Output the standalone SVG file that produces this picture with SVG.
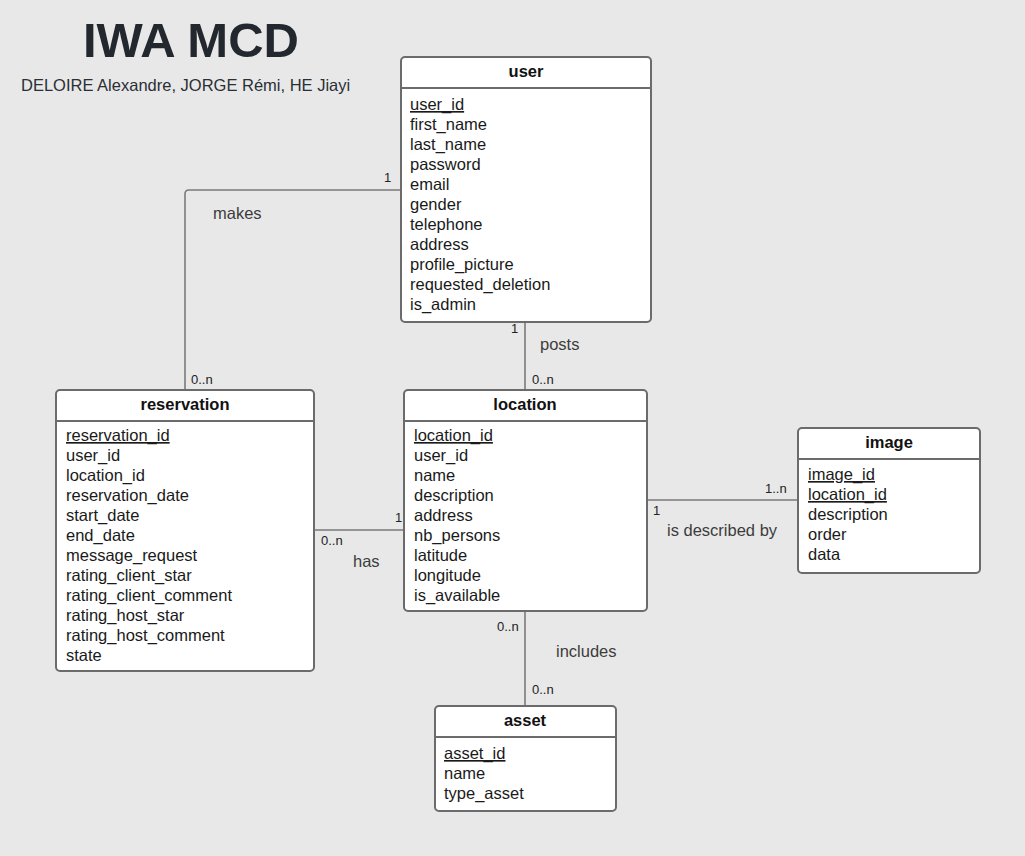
<svg xmlns="http://www.w3.org/2000/svg" width="1025" height="856" viewBox="0 0 1025 856">
<style>
text{font-family:"Liberation Sans",Arial,sans-serif}
.box{fill:#ffffff;stroke:#6b6b6b;stroke-width:2}
.div{stroke:#6b6b6b;stroke-width:2}
.hdr{font-size:16.5px;font-weight:bold;fill:#111;text-anchor:middle}
.att{font-size:16.5px;fill:#1a1a1a}
.pk{text-decoration:underline}
.con{fill:none;stroke:#7a7a7a;stroke-width:1.6}
.lbl{font-size:16.5px;fill:#3c3c3c}
.card{font-size:13px;fill:#222}
</style>
<rect width="1025" height="856" fill="#e8e8e8"/>
<text x="83" y="57" font-size="49" font-weight="bold" fill="#23282f">IWA MCD</text>
<text x="21" y="91" font-size="16.5" fill="#2a2f36">DELOIRE Alexandre, JORGE Rémi, HE Jiayi</text>
<g id="connectors">
<path class="con" d="M401 190 H189 Q185 190 185 194 V390"/>
<path class="con" d="M525 322 V390"/>
<path class="con" d="M314 530 H404"/>
<path class="con" d="M647 500 H798"/>
<path class="con" d="M525 611 V706"/>
<text class="card" x="384" y="182">1</text>
<text class="lbl" x="213" y="219">makes</text>
<text class="card" x="191" y="384">0..n</text>
<text class="card" x="511" y="333">1</text>
<text class="lbl" x="540" y="350">posts</text>
<text class="card" x="532" y="384">0..n</text>
<text class="card" x="395" y="522">1</text>
<text class="card" x="321" y="545">0..n</text>
<text class="lbl" x="353" y="567">has</text>
<text class="card" x="765" y="493">1..n</text>
<text class="card" x="653" y="515">1</text>
<text class="lbl" x="667" y="536">is described by</text>
<text class="card" x="497" y="631">0..n</text>
<text class="lbl" x="556" y="657">includes</text>
<text class="card" x="532" y="694">0..n</text>
</g>
<g id="user">
<rect class="box" x="401" y="57" width="250" height="265" rx="4"/>
<line class="div" x1="401" y1="88" x2="651" y2="88"/>
<text class="hdr" x="526" y="77">user</text>
<text class="att pk" x="410" y="110">user_id</text>
<text class="att" x="410" y="130">first_name</text>
<text class="att" x="410" y="150">last_name</text>
<text class="att" x="410" y="170">password</text>
<text class="att" x="410" y="190">email</text>
<text class="att" x="410" y="210">gender</text>
<text class="att" x="410" y="230">telephone</text>
<text class="att" x="410" y="250">address</text>
<text class="att" x="410" y="270">profile_picture</text>
<text class="att" x="410" y="290">requested_deletion</text>
<text class="att" x="410" y="310">is_admin</text>
</g>
<g id="reservation">
<rect class="box" x="56" y="390" width="258" height="281" rx="4"/>
<line class="div" x1="56" y1="421" x2="314" y2="421"/>
<text class="hdr" x="185" y="410">reservation</text>
<text class="att pk" x="66" y="441">reservation_id</text>
<text class="att" x="66" y="461">user_id</text>
<text class="att" x="66" y="481">location_id</text>
<text class="att" x="66" y="501">reservation_date</text>
<text class="att" x="66" y="521">start_date</text>
<text class="att" x="66" y="541">end_date</text>
<text class="att" x="66" y="561">message_request</text>
<text class="att" x="66" y="581">rating_client_star</text>
<text class="att" x="66" y="601">rating_client_comment</text>
<text class="att" x="66" y="621">rating_host_star</text>
<text class="att" x="66" y="641">rating_host_comment</text>
<text class="att" x="66" y="661">state</text>
</g>
<g id="location">
<rect class="box" x="404" y="390" width="243" height="221" rx="4"/>
<line class="div" x1="404" y1="421" x2="647" y2="421"/>
<text class="hdr" x="525" y="410">location</text>
<text class="att pk" x="414" y="441">location_id</text>
<text class="att" x="414" y="461">user_id</text>
<text class="att" x="414" y="481">name</text>
<text class="att" x="414" y="501">description</text>
<text class="att" x="414" y="521">address</text>
<text class="att" x="414" y="541">nb_persons</text>
<text class="att" x="414" y="561">latitude</text>
<text class="att" x="414" y="581">longitude</text>
<text class="att" x="414" y="601">is_available</text>
</g>
<g id="image">
<rect class="box" x="798" y="428" width="182" height="145" rx="4"/>
<line class="div" x1="798" y1="459" x2="980" y2="459"/>
<text class="hdr" x="889" y="448">image</text>
<text class="att pk" x="808" y="480">image_id</text>
<text class="att pk" x="808" y="500">location_id</text>
<text class="att" x="808" y="520">description</text>
<text class="att" x="808" y="540">order</text>
<text class="att" x="808" y="560">data</text>
</g>
<g id="asset">
<rect class="box" x="435" y="706" width="181" height="105" rx="4"/>
<line class="div" x1="435" y1="737" x2="616" y2="737"/>
<text class="hdr" x="525" y="726">asset</text>
<text class="att pk" x="444" y="759">asset_id</text>
<text class="att" x="444" y="779">name</text>
<text class="att" x="444" y="799">type_asset</text>
</g>
</svg>
